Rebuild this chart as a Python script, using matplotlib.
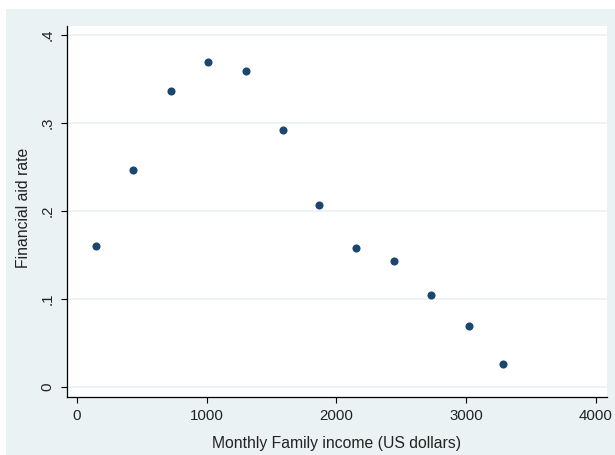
import numpy as np
import matplotlib.pyplot as plt
from matplotlib.patches import Rectangle

# data
income = [146, 431, 723, 1008, 1300, 1585, 1869, 2154, 2446, 2731, 3023, 3285]
aid_rate = [0.160, 0.246, 0.336, 0.369, 0.359, 0.292, 0.207, 0.158, 0.143, 0.104, 0.069, 0.026]
xticks = [0, 1000, 2000, 3000, 4000]
yticks = [0, 0.1, 0.2, 0.3, 0.4]
ytick_labels = ["0", ".1", ".2", ".3", ".4"]

BG = "#eaf2f3"
MARK = "#1a476f"

plt.rcParams['font.family'] = ['Liberation Sans', 'DejaVu Sans']

W, H = 615, 455
fig = plt.figure(figsize=(W / 100, H / 100), dpi=100, facecolor="white")
fig.patches.append(Rectangle((6 / W, 0), 1 - 6 / W, 1 - 9 / H,
                             transform=fig.transFigure, facecolor=BG,
                             edgecolor="none", zorder=-10))

ax = fig.add_axes([67 / W, 1 - 397 / H, (607 - 67) / W, (397 - 26) / H])
ax.set_facecolor("white")

ax.scatter(income, aid_rate, s=34, color=MARK, zorder=3, linewidths=0)

ax.set_xlim(-77, 4085)
ax.set_ylim(-0.0114, 0.4102)
ax.set_xticks(xticks)
ax.set_xticklabels([str(t) for t in xticks])
ax.set_yticks(yticks)
ax.set_yticklabels(ytick_labels, rotation=90, va="center")

ax.grid(axis="y", color=BG, linewidth=1.2, zorder=0)
ax.set_axisbelow(True)

for side in ["top", "right"]:
    ax.spines[side].set_visible(False)
for side in ["left", "bottom"]:
    ax.spines[side].set_color("black")
    ax.spines[side].set_linewidth(0.9)

ax.tick_params(axis="both", direction="out", length=4, width=0.8,
               color="black", labelsize=10.8, labelcolor="#222222", pad=5)

ax.set_xlabel("Monthly Family income (US dollars)", fontsize=11.3,
              color="#222222", labelpad=9)
ax.set_ylabel("Financial aid rate", fontsize=11.3, color="#222222")
ax.yaxis.set_label_coords(-0.066, 0.51)

fig.savefig("out.png", dpi=100, facecolor=fig.get_facecolor())
